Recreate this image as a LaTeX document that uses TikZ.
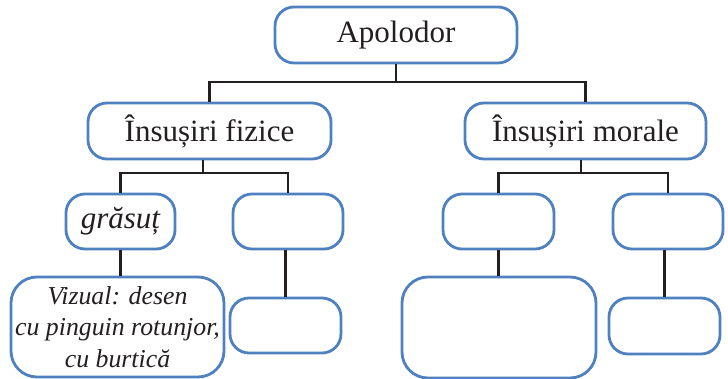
\documentclass[tikz,border=0pt]{standalone}
\usepackage{fontspec}
\setmainfont{Liberation Serif}
\definecolor{boxblue}{RGB}{79,129,192}
\definecolor{linegray}{RGB}{35,31,32}
\begin{document}
\begin{tikzpicture}[x=1pt,y=-1pt,
  bx/.style={draw=boxblue,line width=2.8pt,rounded corners=19pt,fill=white,
    inner sep=0pt,align=center,font=\fontsize{31}{36}\selectfont,text=linegray},
  bigbx/.style={bx,rounded corners=26pt},
  conn/.style={draw=linegray,line width=2.8pt}]
\useasboundingbox (0,0) rectangle (728,379);
\node[bx,minimum width=242pt,minimum height=56pt] (apo) at (396,35) {Apolodor};
\node[bx,minimum width=243pt,minimum height=56pt] (fiz) at (209.5,131) {Însușiri fizice};
\node[bx,minimum width=241pt,minimum height=56pt] (mor) at (585.5,131) {Însușiri morale};
\node[bx,minimum width=109pt,minimum height=55pt] (gra) at (120.5,221.5) {\itshape grăsuț};
\node[bx,minimum width=110pt,minimum height=55pt] (e1) at (288,221.5) {};
\node[bx,minimum width=111pt,minimum height=55pt] (e2) at (498.5,221.5) {};
\node[bx,minimum width=110pt,minimum height=55pt] (e3) at (668,221.5) {};
\node[bigbx,minimum width=213pt,minimum height=100pt,font=\fontsize{25.8}{31.5}\selectfont\itshape] (viz) at (117.5,327) {Vizual: desen\\cu pinguin rotunjor,\\cu burtică};
\node[bx,minimum width=111pt,minimum height=55pt] (e4) at (285.5,325.5) {};
\node[bigbx,minimum width=194pt,minimum height=101pt] (big) at (499,327.5) {};
\node[bx,minimum width=111pt,minimum height=56pt] (e5) at (664.5,326) {};
\coordinate (j1) at (396,82);
\coordinate (j2) at (203,173);
\coordinate (j3) at (581,173);
\draw[conn] (apo.south) -- (j1);
\draw[conn] (fiz.north) |- (j1) -| (mor.north);
\draw[conn] (fiz.south -| j2) -- (j2);
\draw[conn] (gra.north) |- (j2) -| (e1.north);
\draw[conn] (mor.south -| j3) -- (j3);
\draw[conn] (e2.north) |- (j3) -| (e3.north);
\draw[conn] (gra.south) -- (gra.south |- viz.north);
\draw[conn] (e1.south -| e4.north) -- (e4.north);
\draw[conn] (e2.south) -- (e2.south |- big.north);
\draw[conn] (e3.south -| e5.north) -- (e5.north);
\end{tikzpicture}
\end{document}
